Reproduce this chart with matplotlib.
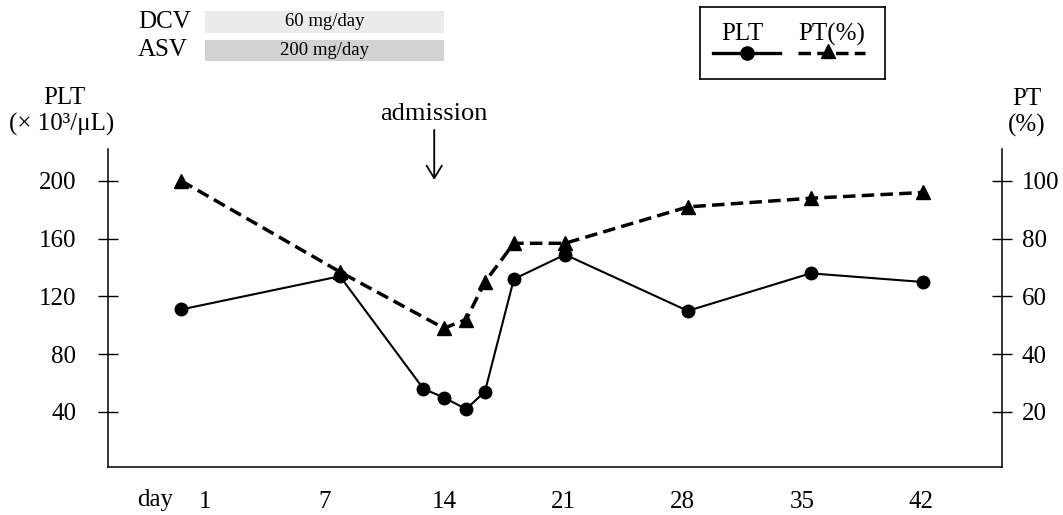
import matplotlib
matplotlib.use("Agg")
import matplotlib.pyplot as plt
from matplotlib.lines import Line2D

plt.rcParams['font.family'] = ['Liberation Serif', 'DejaVu Serif']

# platelet count (x10^3/uL) by day
plt_days = [-1.4, 7.9, 12.8, 14.0, 15.3, 16.4, 18.1, 21.1, 28.3, 35.5, 42.1]
plt_counts = [111, 134, 56, 50, 42, 54, 132, 149, 110, 136, 130]

# prothrombin time (%) by day
pt_days = [-1.4, 7.9, 14.0, 15.3, 16.4, 18.1, 21.1, 28.3, 35.5, 42.1]
pt_percent = [100, 68.5, 49, 52, 65, 78.4, 78.4, 91, 94, 96]

tick_days = [0, 7, 14, 21, 28, 35, 42]
tick_labels = ['1', '7', '14', '21', '28', '35', '42']
left_ticks = [40, 80, 120, 160, 200]
right_ticks = [20, 40, 60, 80, 100]

drugs = ['DCV', 'ASV']
doses = ['60 mg/day', '200 mg/day']
drug_start = [0, 0]
drug_end = [14, 14]
drug_colors = ['#ebebeb', '#d2d2d2']

admission_day = 13.43

W, H = 1063, 515
fig = plt.figure(figsize=(W / 100, H / 100), dpi=100)

def box(x0, y0, x1, y1):
    # pixel box (top-left origin) -> figure fraction rect
    return [x0 / W, 1 - y1 / H, (x1 - x0) / W, (y1 - y0) / H]

ax = fig.add_axes(box(107.7, 149, 1001.7, 467))
ax2 = ax.twinx()

ax.plot(plt_days, plt_counts, color='black', lw=1.5, marker='o', ms=9, zorder=3)
ax2.plot(pt_days, pt_percent, color='black', lw=2.5, ls=(0, (3.6, 1.8)),
         marker='^', ms=9.5, zorder=3)

ax.set_xlim(-5.72, 46.71)
ax.set_ylim(1.9, 222.1)
ax2.set_ylim(0.95, 111.05)

ax.set_xticks(tick_days)
ax.set_xticklabels(tick_labels)
ax.set_yticks(left_ticks)
ax2.set_yticks(right_ticks)

ax.tick_params(axis='x', length=0, pad=17, labelsize=18)
ax.tick_params(axis='y', direction='inout', length=15, width=1, pad=15, labelsize=18)
ax2.tick_params(axis='y', direction='inout', length=15, width=1, pad=7, labelsize=18)

for s in ['top', 'right']:
    ax.spines[s].set_visible(False)
for s in ['top', 'left', 'bottom']:
    ax2.spines[s].set_visible(False)
for a in (ax, ax2):
    for s in a.spines.values():
        s.set_linewidth(1.1)

ax.text(-2.95, -0.104, 'day', transform=ax.get_xaxis_transform(),
        ha='center', va='center', fontsize=18)

# admission marker
ax.text(admission_day, 242, 'admission', ha='center', va='baseline', fontsize=19)
ax.annotate('', xy=(admission_day, 200.7), xytext=(admission_day, 235.3),
            textcoords='data', annotation_clip=False,
            arrowprops=dict(arrowstyle='->,head_length=0.9,head_width=0.55',
                            lw=1.3, color='black', shrinkA=0, shrinkB=0))

# axis titles
fig.text(64 / W, 1 - 98 / H, 'PLT', ha='center', va='center', fontsize=18)
fig.text(62 / W, 1 - 124 / H, '(× 10³/μL)', ha='center', va='center', fontsize=18)
fig.text(1027 / W, 1 - 99 / H, 'PT', ha='center', va='center', fontsize=18)
fig.text(1027 / W, 1 - 125 / H, '(%)', ha='center', va='center', fontsize=18)

# drug bars on top, sharing the day axis
tax = fig.add_axes(box(107.7, 7.75, 1001.7, 64.75), sharex=ax)
widths = [e - s for s, e in zip(drug_start, drug_end)]
tax.barh(range(len(drugs)), widths, left=drug_start, height=0.74,
         color=drug_colors, edgecolor='none')
tax.set_ylim(1.5, -0.5)
tax.axis('off')
for i, (name, dose) in enumerate(zip(drugs, doses)):
    tax.text(-3.95, i, name, ha='left', va='center', fontsize=18)
    tax.text((drug_start[i] + drug_end[i]) / 2, i, dose, ha='center',
             va='center', fontsize=13.5)

# legend box
lax = fig.add_axes(box(700, 7, 885, 79))
lax.set_xlim(0, 185)
lax.set_ylim(72, 0)
lax.set_xticks([])
lax.set_yticks([])
for s in lax.spines.values():
    s.set_linewidth(1.2)
lax.add_line(Line2D([13, 80], [46, 46], color='black', lw=2.4))
lax.add_line(Line2D([46.7], [46], color='black', marker='o', ms=9.5))
lax.add_line(Line2D([98, 165], [46, 46], color='black', lw=2.5, ls=(0, (3.6, 1.8))))
lax.add_line(Line2D([128], [44], color='black', marker='^', ms=9.5))
lax.text(42, 27, 'PLT', ha='center', va='center', fontsize=18)
lax.text(131.7, 27, 'PT(%)', ha='center', va='center', fontsize=18)

fig.savefig('out.png', dpi=100)
